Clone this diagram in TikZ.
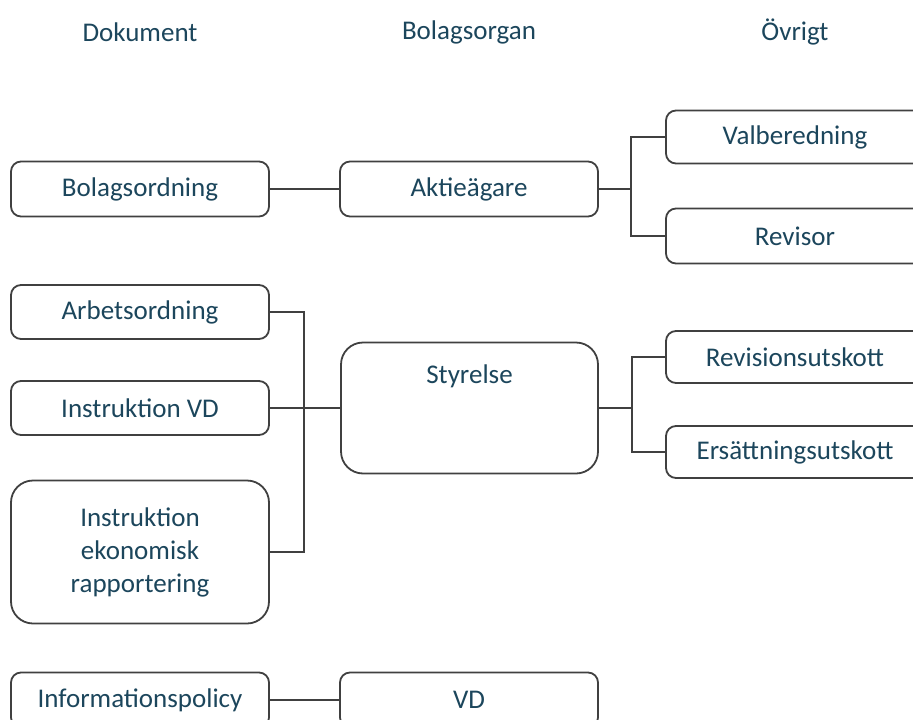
\documentclass[tikz,border=0pt]{standalone}
\usepackage{fontspec}
\setmainfont{Carlito}
\usepackage{tikz}
\definecolor{txt}{RGB}{28,70,92}
\definecolor{rim}{RGB}{64,64,64}

\begin{document}
\begin{tikzpicture}[x=1pt, y=-1pt,
    every node/.style={font=\fontsize{27}{33}\selectfont, text=txt},
    box/.style={draw=rim, line width=1.8pt, fill=white, rounded corners=10pt,
                minimum width=258pt, minimum height=55pt, inner sep=0pt},
    bigbox/.style={box, rounded corners=22pt, align=center},
    head/.style={inner sep=0pt},
    link/.style={draw=rim, line width=1.8pt}]
  \useasboundingbox (0,0) rectangle (913,720);

  % rubriker
  \node[head] (hdok) at (140,32) {Dokument};
  \node[head] (horg) at (469,32) {Bolagsorgan};
  \node[head] (hovr) at (795,32) {Övrigt};

  % dokument
  \node[box] (bolagsordn) at (140,189) {Bolagsordning};
  \node[box, minimum height=54pt] (arbetsordn) at (140,312) {Arbetsordning};
  \node[box, minimum height=54pt] (instrvd) at (140,408) {Instruktion VD};
  \node[bigbox, minimum height=143pt] (instrek) at (140,552)
    {Instruktion\\ekonomisk\\rapportering};
  \node[box] (infopolicy) at (140,700) {Informationspolicy};

  % bolagsorgan
  \node[box] (aktieagare) at (469,189) {Aktieägare};
  \node[bigbox, minimum width=257pt, minimum height=131pt,
        label={[anchor=center, yshift=-35pt]north:Styrelse}] (styrelse) at (469.5,408) {};
  \node[box] (vd) at (469,700) {VD};

  % övrigt
  \node[box, minimum height=53pt] (valberedn) at (795,137) {Valberedning};
  \node[box] (revisor) at (795,236) {Revisor};
  \node[box, minimum height=52pt] (revutskott) at (795,357) {Revisionsutskott};
  \node[box, minimum height=52pt] (ersutskott) at (795,452) {Ersättningsutskott};

  \coordinate (fork1) at (631,189);
  \coordinate (fork2) at (304,408);
  \coordinate (fork3) at (632,408);

  \path[link]
  (bolagsordn) -- (aktieagare)
  (aktieagare.east) -- (fork1)
  (valberedn.west) -| (fork1) |- (revisor.west)
  (arbetsordn.east) -| (fork2) |- (instrek.east)
  (instrvd.east) -- (styrelse.west)
  (styrelse.east) -- (fork3)
  (revutskott.west) -| (fork3) |- (ersutskott.west)
  (infopolicy) -- (vd)
  ;
\end{tikzpicture}
\end{document}
